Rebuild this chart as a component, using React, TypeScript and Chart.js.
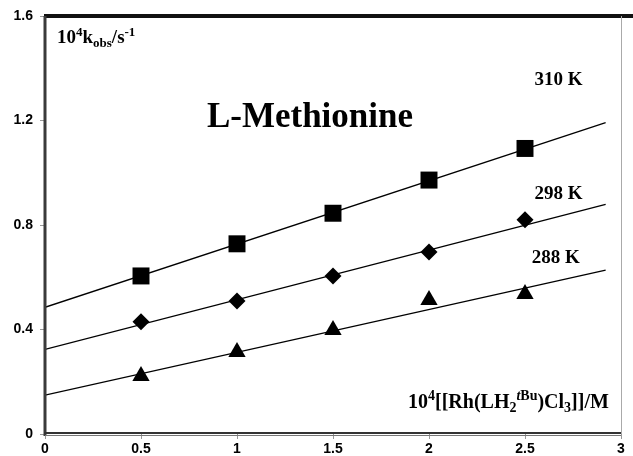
import React, { useEffect, useRef } from 'react';
import { Chart, registerables } from 'chart.js';

Chart.register(...registerables);

// ---- data ----
const concentrations = [0.5, 1, 1.5, 2, 2.5];
const k310 = [0.605, 0.728, 0.845, 0.972, 1.093];
const k298 = [0.43, 0.509, 0.605, 0.697, 0.82];
const k288 = [0.222, 0.314, 0.398, 0.513, 0.536];
const fitX = [0, 2.92];
const fit310 = [0.485, 1.192];
const fit298 = [0.324, 0.879];
const fit288 = [0.149, 0.627];
const seriesLabels = ['310 K', '298 K', '288 K'];
const titleText = 'L-Methionine';
const xTickValues = [0, 0.5, 1, 1.5, 2, 2.5, 3];
const yTickValues = [0, 0.4, 0.8, 1.2, 1.6];

const SERIF = '"Liberation Serif", "Times New Roman", serif';
const SANS = '"Liberation Sans", Arial, sans-serif';

type Seg = { t: string; s?: 'sup' | 'sub'; i?: boolean };

function drawRich(ctx: CanvasRenderingContext2D, segs: Seg[], x: number, y: number, size: number) {
  let cx = x;
  for (const g of segs) {
    const fs = g.s ? Math.round(size * 0.68) : size;
    ctx.font = `${g.i ? 'italic ' : ''}bold ${fs}px ${SERIF}`;
    const dy = g.s === 'sup' ? -size * 0.38 : g.s === 'sub' ? size * 0.22 : 0;
    ctx.fillText(g.t, cx, y + dy);
    cx += ctx.measureText(g.t).width;
  }
}

const yLabelSegs: Seg[] = [
  { t: '10' }, { t: '4', s: 'sup' }, { t: 'k' }, { t: 'obs', s: 'sub' }, { t: '/s' }, { t: '-1', s: 'sup' },
];
const xLabelSegs: Seg[] = [
  { t: '10' }, { t: '4', s: 'sup' }, { t: '[[Rh(LH' }, { t: '2', s: 'sub' }, { t: 't', s: 'sup', i: true },
  { t: 'Bu', s: 'sup' }, { t: ')Cl' }, { t: '3', s: 'sub' }, { t: ']]/M' },
];

const decorPlugin = {
  id: 'decor',
  afterDraw(chart: any) {
    const ctx: CanvasRenderingContext2D = chart.ctx;
    const a = chart.chartArea;
    const xs = chart.scales.x;
    const ys = chart.scales.y;
    const W = chart.width;
    ctx.save();
    // frame
    ctx.fillStyle = '#111';
    ctx.fillRect(a.left - 1, a.top - 2, W - a.left + 1, 4);
    ctx.strokeStyle = '#aaa';
    ctx.lineWidth = 1;
    ctx.beginPath();
    ctx.moveTo(a.right + 0.5, a.top);
    ctx.lineTo(a.right + 0.5, a.bottom);
    ctx.stroke();
    ctx.fillStyle = '#3a3a3a';
    ctx.fillRect(a.left - 1.5, a.top, 3, a.bottom - a.top + 2);
    ctx.fillStyle = '#333';
    ctx.fillRect(a.left - 1, a.bottom - 2, a.right - a.left + 1, 2);
    ctx.strokeStyle = '#777';
    ctx.beginPath();
    ctx.moveTo(a.left, a.bottom + 1.5);
    ctx.lineTo(a.right, a.bottom + 1.5);
    ctx.stroke();

    // texts
    ctx.fillStyle = '#000';
    ctx.textAlign = 'left';
    ctx.textBaseline = 'alphabetic';
    drawRich(ctx, yLabelSegs, a.left + 12, a.top + 27, 19);
    drawRich(ctx, xLabelSegs, 408, a.bottom - 26, 20);

    ctx.font = `bold 35px ${SERIF}`;
    ctx.textAlign = 'center';
    ctx.fillText(titleText, xs.getPixelForValue(1.38), ys.getPixelForValue(1.175));

    ctx.textAlign = 'left';
    ctx.font = `bold 19px ${SERIF}`;
    const labelPos = [
      [2.55, 1.336],
      [2.55, 0.9],
      [2.535, 0.655],
    ];
    seriesLabels.forEach((lab, i) => {
      ctx.fillText(lab, xs.getPixelForValue(labelPos[i][0]), ys.getPixelForValue(labelPos[i][1]));
    });
    ctx.restore();
  },
};

function pts(xv: number[], yv: number[]) {
  return xv.map((x, i) => ({ x, y: yv[i] }));
}

export default function App() {
  const ref = useRef<HTMLCanvasElement | null>(null);
  useEffect(() => {
    if (!ref.current) return;
    const markerDs = (data: number[], style: string, r: number) => ({
      data: pts(concentrations, data),
      showLine: false,
      pointStyle: style,
      pointRadius: r,
      pointHoverRadius: r,
      backgroundColor: '#000',
      borderColor: '#000',
      borderWidth: 0,
    });
    const lineDs = (data: number[]) => ({
      data: pts(fitX, data),
      showLine: true,
      pointRadius: 0,
      borderColor: '#000',
      borderWidth: 1.3,
      fill: false,
    });
    const chart = new Chart(ref.current, {
      type: 'scatter',
      data: {
        datasets: [
          lineDs(fit310),
          lineDs(fit298),
          lineDs(fit288),
          markerDs(k310, 'rect', 12),
          markerDs(k298, 'rectRot', 8.5),
          markerDs(k288, 'triangle', 10),
        ] as any,
      },
      options: {
        responsive: false,
        animation: false,
        devicePixelRatio: 1,
        layout: { padding: { top: 16, right: 2, left: 0, bottom: 0 } },
        plugins: { legend: { display: false }, tooltip: { enabled: false } },
        scales: {
          x: {
            type: 'linear',
            min: 0,
            max: 3,
            afterBuildTicks: (s: any) => {
              s.ticks = xTickValues.map((v) => ({ value: v }));
            },
            afterFit: (s: any) => {
              s.height = 22;
              s.paddingLeft = 0;
              s.paddingRight = 0;
            },
            border: { display: false },
            grid: { drawOnChartArea: false, drawTicks: true, tickLength: 5, color: '#999' },
            ticks: {
              color: '#000',
              padding: 2,
              maxRotation: 0,
              autoSkip: false,
              font: { family: SANS, weight: 'bold', size: 14 },
              callback: (v: any) => String(v),
            },
          },
          y: {
            type: 'linear',
            min: 0,
            max: 1.6,
            afterBuildTicks: (s: any) => {
              s.ticks = yTickValues.map((v) => ({ value: v }));
            },
            afterFit: (s: any) => {
              s.width = 45;
              s.paddingTop = 0;
              s.paddingBottom = 0;
            },
            border: { display: false },
            grid: { drawOnChartArea: false, drawTicks: true, tickLength: 5, color: '#999' },
            ticks: {
              color: '#000',
              padding: 7,
              autoSkip: false,
              font: { family: SANS, weight: 'bold', size: 14 },
              callback: (v: any) => (Number(v) === 0 ? '0' : Number(v).toFixed(1)),
            },
          },
        },
      } as any,
      plugins: [decorPlugin],
    });
    return () => chart.destroy();
  }, []);
  return (
    <div style={{ position: 'absolute', left: 0, top: 0, width: 633, height: 456, background: '#fff' }}>
      <canvas ref={ref} width={633} height={456} style={{ display: 'block' }} />
    </div>
  );
}
